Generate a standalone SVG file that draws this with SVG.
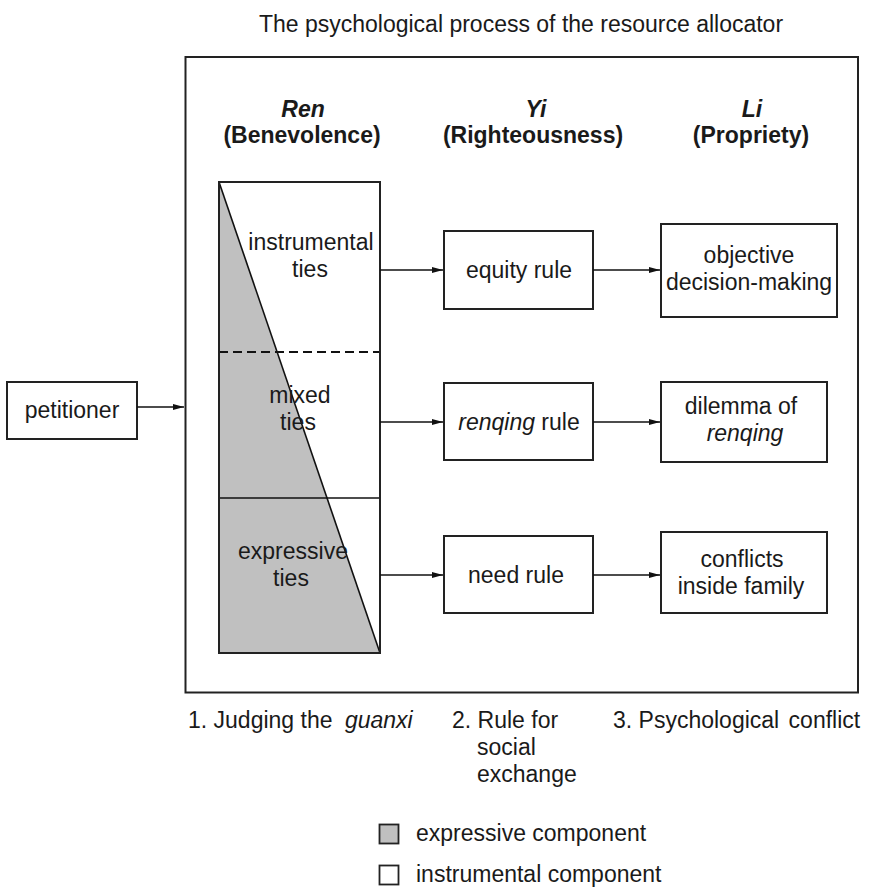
<svg xmlns="http://www.w3.org/2000/svg" width="869" height="888" viewBox="0 0 869 888">
<style>
text{font-family:"Liberation Sans",Arial,Helvetica,sans-serif;font-size:23px;fill:#1a1a1a}
.c{text-anchor:middle}
.h{font-weight:bold;font-size:23px}
.i{font-style:italic}
.box{fill:#fff;stroke:#222;stroke-width:2}
.ln{stroke:#111;stroke-width:1.6;fill:none}
.gray{fill:#c0c0c0}
</style>
<defs>
<marker id="ah" markerWidth="12" markerHeight="8" refX="11" refY="4" orient="auto" markerUnits="userSpaceOnUse">
<path d="M0,1 L11,4 L0,7 Z" fill="#111"/>
</marker>
</defs>
<rect width="869" height="888" fill="#fff"/>
<text class="c" x="521" y="32">The psychological process of the resource allocator</text>
<g id="frame">
<rect x="185.5" y="57" width="672.5" height="635.5" fill="none" stroke="#222" stroke-width="2"/>
</g>
<g id="headers">
<text class="c h i" x="303" y="117">Ren</text>
<text class="c h" x="302" y="143">(Benevolence)</text>
<text class="c h i" x="536" y="117">Yi</text>
<text class="c h" x="533" y="143">(Righteousness)</text>
<text class="c h i" x="752" y="117">Li</text>
<text class="c h" x="751" y="143">(Propriety)</text>
</g>
<g id="petitioner">
<rect class="box" x="7" y="382" width="130" height="57"/>
<text class="c" x="72" y="418">petitioner</text>
</g>
<g id="ren">
<rect x="219" y="182" width="161" height="471" fill="#fff"/>
<polygon class="gray" points="219,182 380,653 219,653"/>
<line class="ln" x1="219" y1="182" x2="380" y2="653"/>
<line x1="219" y1="352" x2="380" y2="352" stroke="#111" stroke-width="1.8" stroke-dasharray="9,5"/>
<line class="ln" x1="219" y1="498" x2="380" y2="498"/>
<rect x="219" y="182" width="161" height="471" fill="none" stroke="#222" stroke-width="2"/>
<text class="c" x="311" y="250">instrumental</text>
<text class="c" x="310" y="277">ties</text>
<text class="c" x="300" y="403">mixed</text>
<text class="c" x="298" y="430">ties</text>
<text class="c" x="293" y="559">expressive</text>
<text class="c" x="291" y="586">ties</text>
</g>
<g id="equity">
<rect class="box" x="444" y="231" width="149" height="78"/>
<text class="c" x="519" y="278">equity rule</text>
</g>
<g id="renqing">
<rect class="box" x="444" y="383" width="149" height="77"/>
<text class="c" x="519" y="430"><tspan class="i">renqing</tspan> rule</text>
</g>
<g id="need">
<rect class="box" x="444" y="536" width="149" height="77"/>
<text class="c" x="516" y="583">need rule</text>
</g>
<g id="objective">
<rect class="box" x="661" y="224" width="176" height="93"/>
<text class="c" x="749" y="263">objective</text>
<text class="c" x="749" y="290">decision-making</text>
</g>
<g id="dilemma">
<rect class="box" x="661" y="382" width="166" height="80"/>
<text class="c" x="741" y="414">dilemma of</text>
<text class="c i" x="745" y="441">renqing</text>
</g>
<g id="conflicts">
<rect class="box" x="661" y="532" width="166" height="81"/>
<text class="c" x="742" y="567">conflicts</text>
<text class="c" x="741" y="594">inside family</text>
</g>
<g id="connectors">
<line class="ln" x1="137" y1="407" x2="184" y2="407" marker-end="url(#ah)"/>
<line class="ln" x1="380" y1="270" x2="443" y2="270" marker-end="url(#ah)"/>
<line class="ln" x1="380" y1="422" x2="443" y2="422" marker-end="url(#ah)"/>
<line class="ln" x1="380" y1="575" x2="443" y2="575" marker-end="url(#ah)"/>
<line class="ln" x1="593" y1="270" x2="660" y2="270" marker-end="url(#ah)"/>
<line class="ln" x1="593" y1="422" x2="660" y2="422" marker-end="url(#ah)"/>
<line class="ln" x1="593" y1="575" x2="660" y2="575" marker-end="url(#ah)"/>
</g>
<g id="stages">
<text x="188" y="728">1. Judging the <tspan class="i" dx="6">guanxi</tspan></text>
<text x="452" y="728">2. Rule for</text>
<text x="477" y="755">social</text>
<text x="477" y="782">exchange</text>
<text x="613" y="728">3. Psychological <tspan dx="3">conflict</tspan></text>
</g>
<g id="legend">
<rect x="379.5" y="824.5" width="19" height="19" fill="#c0c0c0" stroke="#222" stroke-width="1.8"/>
<text x="416" y="841">expressive component</text>
<rect x="379.5" y="865.5" width="19" height="19" fill="#fff" stroke="#222" stroke-width="1.8"/>
<text x="416" y="882">instrumental component</text>
</g>
</svg>
